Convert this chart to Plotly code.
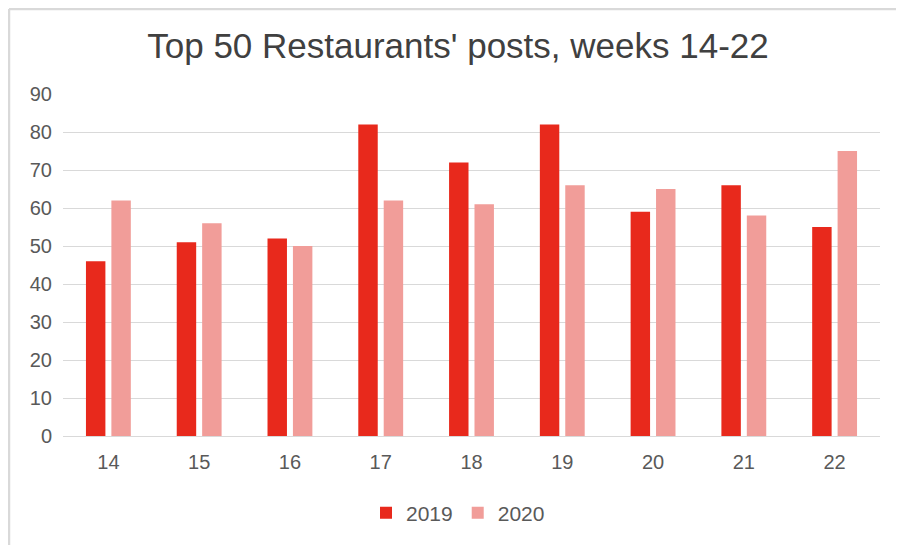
import plotly.graph_objects as go

weeks = ["14", "15", "16", "17", "18", "19", "20", "21", "22"]
posts_2019 = [46, 51, 52, 82, 72, 82, 59, 66, 55]
posts_2020 = [62, 56, 50, 62, 61, 66, 65, 58, 75]
y_ticks = [0, 10, 20, 30, 40, 50, 60, 70, 80, 90]

# page body has an 8px margin, so the figure is sized / placed to compensate
OFF = 8
W, H = 904 - OFF, 545 - OFF
ML, MT = 63 - OFF, 94 - OFF
pw, ph = 817, 342
MR = W - ML - pw
MB = H - MT - ph

fig = go.Figure()
fig.add_trace(go.Bar(x=weeks, y=posts_2019, name="2019",
                     marker=dict(color="#E8291C", line=dict(width=0))))
fig.add_trace(go.Bar(x=weeks, y=posts_2020, name="2020",
                     marker=dict(color="#F19D99", line=dict(width=0))))

font_family = "Liberation Sans, Arial, sans-serif"
fig.update_layout(
    width=W, height=H,
    margin=dict(l=ML, r=MR, t=MT, b=MB, pad=0),
    paper_bgcolor="white", plot_bgcolor="white",
    barmode="group", bargap=0.44, bargroupgap=0.235,
    font=dict(family=font_family, color="#595959", size=20),
    title=dict(text="Top 50 Restaurants' posts, weeks 14-22",
               x=(458 - OFF) / W, xanchor="center", xref="container",
               y=1 - (46 - OFF) / H, yanchor="middle", yref="container",
               font=dict(size=35, color="#404040", family=font_family)),
    legend=dict(orientation="h", x=(458 - OFF - ML) / pw, xanchor="center",
                y=-(513 - (94 + ph)) / ph, yanchor="middle",
                font=dict(size=21, color="#595959"),
                itemwidth=30, traceorder="normal"),
    showlegend=True,
)
fig.update_xaxes(showgrid=False, showline=False, ticks="", tickfont=dict(size=20),
                 ticklabelstandoff=12)
fig.update_yaxes(range=[0, 90], tickvals=y_ticks, showgrid=True, gridcolor="#D9D9D9",
                 gridwidth=1.3, zeroline=True, zerolinecolor="#D9D9D9", zerolinewidth=1.3,
                 showline=False, ticks="", tickfont=dict(size=20), ticklabelstandoff=10)

# chart frame (left and top border lines), at the figure edge
x_left = (1 - ML) / pw
y_top = (MT + ph - 1) / ph
fig.add_shape(type="line", xref="paper", yref="paper", x0=x_left, x1=x_left,
              y0=(MT + ph - H) / ph, y1=y_top, line=dict(color="#D9D9D9", width=2.5))
fig.add_shape(type="line", xref="paper", yref="paper", x0=x_left, x1=(W - ML) / pw,
              y0=y_top, y1=y_top, line=dict(color="#D9D9D9", width=2.5))

fig.write_html("out.html")
